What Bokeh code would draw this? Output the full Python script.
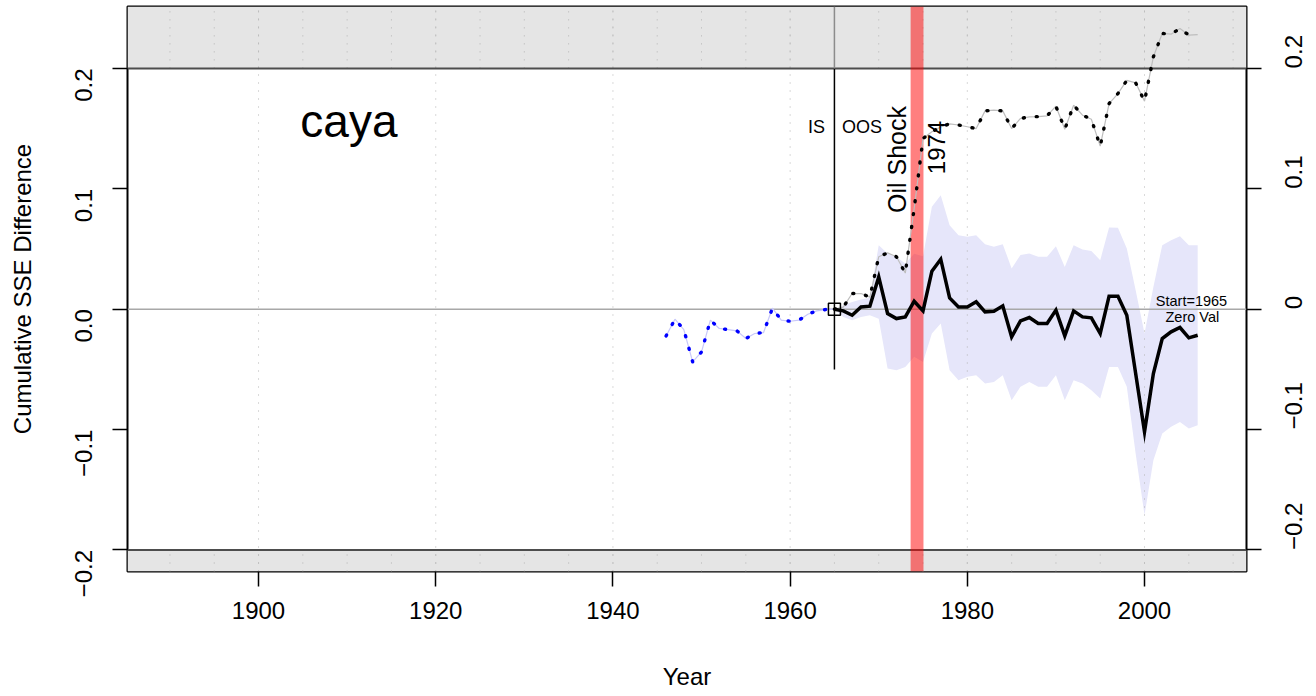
import math
from bokeh.plotting import figure
from bokeh.models import Range1d, LinearAxis, FixedTicker, Label, BoxAnnotation
from bokeh.embed import file_html
from bokeh.resources import INLINE

# ---------------- data ----------------
is_years = list(range(1946, 1966))
is_vals = [-0.0222, -0.0083, -0.0169, -0.0438, -0.0355, -0.0091, -0.0160, -0.0169,
           -0.0180, -0.0244, -0.0202, -0.0194, 0.0008, -0.0091, -0.0100, -0.0091,
           -0.0042, -0.0014, -0.0003, 0.0]

oos_years = list(range(1965, 2007))
sse_diff = [0.0, -0.0014, -0.0050, 0.0019, 0.0025, 0.0268, -0.0036, -0.0078, -0.0064,
            0.0066, -0.0014, 0.0316, 0.0415, 0.0094, 0.0019, 0.0019, 0.0061, -0.0022,
            -0.0017, 0.0028, -0.0230, -0.0097, -0.0069, -0.0119, -0.0119, -0.0008,
            -0.0222, -0.0014, -0.0064, -0.0072, -0.0202, 0.0108, 0.0108, -0.0050,
            -0.0534, -0.1019, -0.0534, -0.0244, -0.0188, -0.0152, -0.0238, -0.0216]
band_hi = [0.0, 0.0033, 0.0060, 0.0080, 0.0096, 0.0532, 0.0462, 0.0434, 0.0380,
           0.0460, 0.0440, 0.0850, 0.0947, 0.0698, 0.0615, 0.0601, 0.0615, 0.0540,
           0.0518, 0.0540, 0.0338, 0.0450, 0.0462, 0.0435, 0.0435, 0.0523, 0.0351,
           0.0532, 0.0495, 0.0484, 0.0407, 0.0678, 0.0676, 0.0504, 0.0158, -0.0202,
           0.0185, 0.0532, 0.0573, 0.0606, 0.0532, 0.0532]
band_lo = [0.0, -0.0064, -0.0091, -0.0064, -0.0050, -0.0080, -0.0493, -0.0507, -0.0480,
           -0.0396, -0.0438, -0.0202, -0.0119, -0.0507, -0.0590, -0.0562, -0.0549,
           -0.0618, -0.0604, -0.0549, -0.0756, -0.0645, -0.0604, -0.0645, -0.0645,
           -0.0549, -0.0756, -0.0590, -0.0618, -0.0673, -0.0742, -0.0480, -0.0480,
           -0.0645, -0.1200, -0.1710, -0.1254, -0.1032, -0.0977, -0.0936, -0.0990,
           -0.0963]
cum_pos = [0.0, 0.0017, 0.0130, 0.0130, 0.0100, 0.0435, 0.0468, 0.0435, 0.0300,
           0.0836, 0.1417, 0.1473, 0.1514, 0.1539, 0.1530, 0.1515, 0.1500, 0.1647,
           0.1653, 0.1647, 0.1500, 0.1584, 0.1597, 0.1600, 0.1606, 0.1686, 0.1495,
           0.1694, 0.1611, 0.1578, 0.1354, 0.1708, 0.1791, 0.1900, 0.1880, 0.1728,
           0.2096, 0.2290, 0.2284, 0.2331, 0.2276, 0.2281]

split_year = 1965
oil_start, oil_end = 1973.6, 1975.05
threshold = 0.2

x_ticks = [1900, 1920, 1940, 1960, 1980, 2000]
y_ticks = [-0.2, -0.1, 0.0, 0.1, 0.2]
y_left_labels = ["\u22120.2", "\u22120.1", "0.0", "0.1", "0.2"]
y_right_labels = ["\u22120.2", "\u22120.1", "0", "0.1", "0.2"]
band_grid_years = list(range(1890, 2011, 5))

FONT = "Liberation Sans"
X0, X1 = 1885.21, 2011.51
Y0, Y1 = -0.21786, 0.2514

p = figure(width=1316, height=696, x_range=Range1d(X0, X1), y_range=Range1d(Y0, Y1),
           output_backend="svg", toolbar_location=None,
           min_border_left=127, min_border_right=70, min_border_top=6, min_border_bottom=125)
p.xgrid.visible = False
p.ygrid.visible = False
p.outline_line_color = "black"
p.outline_line_width = 2
p.background_fill_color = "white"

# gray bands beyond +/- threshold
p.add_layout(BoxAnnotation(bottom=threshold, fill_color="#E5E5E5", fill_alpha=1,
                           line_color=None, level="underlay"))
p.add_layout(BoxAnnotation(top=-threshold, fill_color="#E5E5E5", fill_alpha=1,
                           line_color=None, level="underlay"))

# uncertainty band
p.varea(x=oos_years, y1=band_lo, y2=band_hi, fill_color="#E6E6FA", fill_alpha=1)

# dotted grids
p.segment(x0=x_ticks, y0=[Y0] * len(x_ticks), x1=x_ticks, y1=[Y1] * len(x_ticks),
          line_color="#B4B4B4", line_width=1, line_dash="1 7")
p.segment(x0=band_grid_years, y0=[threshold] * len(band_grid_years),
          x1=band_grid_years, y1=[Y1] * len(band_grid_years),
          line_color="#B4B4B4", line_width=1, line_dash="1 7")
p.segment(x0=band_grid_years, y0=[Y0] * len(band_grid_years),
          x1=band_grid_years, y1=[-threshold] * len(band_grid_years),
          line_color="#B4B4B4", line_width=1, line_dash="1 7")

# horizontal reference lines
p.segment(x0=[X0], y0=[0], x1=[X1], y1=[0], line_color="#A8A8A8", line_width=1.5)
p.segment(x0=[X0, X0], y0=[threshold, -threshold], x1=[X1, X1], y1=[threshold, -threshold],
          line_color="#4D4D4D", line_width=2)

# oil shock bar
p.quad(left=[oil_start], right=[oil_end], bottom=[Y0], top=[Y1],
       fill_color="#FF0000", fill_alpha=0.5, line_color=None)

# IS/OOS split line
p.segment(x0=[split_year], y0=[-0.05], x1=[split_year], y1=[threshold],
          line_color="black", line_width=1.5)
p.segment(x0=[split_year], y0=[threshold], x1=[split_year], y1=[Y1],
          line_color="#8C8C8C", line_width=1.5)

# in-sample series
p.line(is_years, is_vals, line_color="#C8C8FA", line_width=1.2)
p.line(is_years, is_vals, line_color="#0000FF", line_width=3.4, line_dash="1 12",
       line_cap="round")

# out-of-sample cumulative positive
p.line(oos_years, cum_pos, line_color="#BEBEBE", line_width=1.2)
p.line(oos_years, cum_pos, line_color="black", line_width=3.4, line_dash="1 12",
       line_cap="round")

# out-of-sample SSE difference
p.line(oos_years, sse_diff, line_color="black", line_width=3.5, line_join="miter")

p.scatter([split_year], [0], marker="square", size=12, fill_color=None,
          line_color="black", line_width=1.5)

# texts
def lab(x, y, text, size, angle=0, align="center", baseline="middle"):
    p.add_layout(Label(x=x, y=y, text=text, text_font=FONT, text_font_size=size,
                       text_align=align, text_baseline=baseline, angle=angle,
                       text_color="black"))

lab(1910.2, 0.1559, "caya", "46px")
lab(1962.98, 0.151, "IS", "18px")
lab(1968.1, 0.151, "OOS", "18px")
lab(1972.05, 0.1243, "Oil Shock", "25px", angle=math.pi / 2)
lab(1976.5, 0.1343, "1974", "24px", angle=math.pi / 2)
lab(2005.3, 0.0066, "Start=1965", "14.5px")
lab(2005.4, -0.0066, "Zero Val", "14.5px")

# axes
def style_axis(ax, ticks, overrides, standoff, orient):
    ax.ticker = FixedTicker(ticks=ticks)
    ax.major_label_overrides = overrides
    ax.major_tick_out = 15
    ax.major_tick_in = 0
    ax.major_tick_line_width = 1.5
    ax.major_tick_line_color = "black"
    ax.minor_tick_line_color = None
    ax.axis_line_color = None
    ax.major_label_text_font = FONT
    ax.major_label_text_font_size = "24px"
    ax.major_label_text_color = "black"
    ax.major_label_standoff = standoff
    ax.major_label_orientation = orient
    ax.axis_label_text_font = FONT
    ax.axis_label_text_font_size = "24px"
    ax.axis_label_text_font_style = "normal"
    ax.axis_label_text_color = "black"

xa = p.xaxis[0]
style_axis(xa, x_ticks, {t: str(t) for t in x_ticks}, 15, "horizontal")
xa.axis_label = "Year"
xa.axis_label_standoff = 41

ya = p.yaxis[0]
style_axis(ya, y_ticks, dict(zip(y_ticks, y_left_labels)), 29, math.pi / 2)
ya.axis_label = "Cumulative SSE Difference"
ya.axis_label_standoff = 28

ra = LinearAxis()
style_axis(ra, y_ticks, dict(zip(y_ticks, y_right_labels)), 32, math.pi / 2)
p.add_layout(ra, "right")

open("out.html", "w").write(file_html(p, INLINE))
